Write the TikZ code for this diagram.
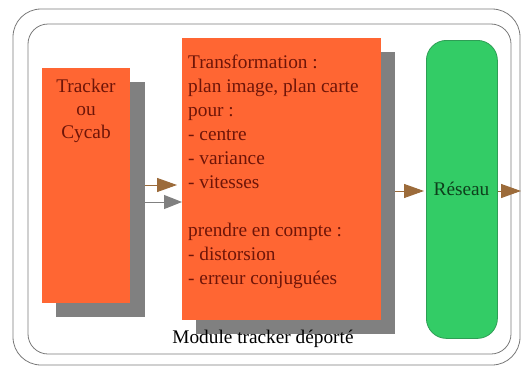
\documentclass[tikz,border=0pt]{standalone}
\usepackage{fontspec}
\setmainfont{Liberation Serif}
\usetikzlibrary{arrows.meta}
\definecolor{orangefill}{HTML}{FF6633}
\definecolor{shadowgray}{HTML}{808080}
\definecolor{greenfill}{HTML}{33CC66}
\definecolor{greenline}{HTML}{2E9E55}
\definecolor{arrowbrown}{HTML}{9C6B3A}
\definecolor{textred}{HTML}{6E1508}
\definecolor{textgreen}{HTML}{0E3F1C}
\definecolor{framegray}{HTML}{7A7A7A}
\begin{document}
\begin{tikzpicture}[x=1pt,y=-1pt,
  orangebox/.style={fill=orangefill, draw=none, inner sep=0pt, anchor=north west},
  shadowbox/.style={fill=shadowgray, draw=none, inner sep=0pt, anchor=north west},
  greenbox/.style={fill=greenfill, draw=greenline, line width=0.8pt, rounded corners=20pt, inner sep=0pt, anchor=north west},
  frameline/.style={draw=framegray, line width=0.8pt},
  txt/.style={font=\fontsize{19.3}{23}\selectfont, text=textred, inner sep=0pt},
  brownarrow/.style={draw=arrowbrown, line width=1pt, -{Triangle[length=20pt,width=14pt]}},
  grayarrow/.style={draw=shadowgray, line width=1pt, -{Triangle[length=18pt,width=14pt]}}
]
\useasboundingbox (0,0) rectangle (521,367);
\fill[white] (0,0) rectangle (521,367);
% frames
\draw[frameline, rounded corners=28pt] (13,9) rectangle (520,365);
\draw[frameline, rounded corners=20pt] (28,24) rectangle (511,354);
% shadows
\node[shadowbox, minimum width=89pt, minimum height=235pt] (trackshadow) at (56,82) {};
\node[shadowbox, minimum width=199pt, minimum height=282pt] (transshadow) at (196,52) {};
% boxes
\node[orangebox, minimum width=88pt, minimum height=235pt] (tracker) at (42,68) {};
\node[orangebox, minimum width=199pt, minimum height=282pt] (trans) at (182,38) {};
\node[greenbox, minimum width=71pt, minimum height=298pt] (reseau) at (426,40) {};
% texts
\node[txt, anchor=base] (t1) at (86,92) {Tracker};
\node[txt, anchor=base] (t2) at (86,115) {ou};
\node[txt, anchor=base] (t3) at (86,138) {Cycab};
\node[txt, anchor=base west] (l1) at (188,68) {Transformation :};
\node[txt, anchor=base west] (l2) at (188,92) {plan image, plan carte};
\node[txt, anchor=base west] (l3) at (188,116) {pour :};
\node[txt, anchor=base west] (l4) at (188,140) {- centre};
\node[txt, anchor=base west] (l5) at (188,164) {- variance};
\node[txt, anchor=base west] (l6) at (188,188) {- vitesses};
\node[txt, anchor=base west] (l7) at (188,236) {prendre en compte :};
\node[txt, anchor=base west] (l8) at (188,260) {- distorsion};
\node[txt, anchor=base west] (l9) at (188,284) {- erreur conjuguées};
\node[txt, anchor=base, text=textgreen] (rt) at (461.5,195) {Réseau};
\node[txt, anchor=base, text=black] (module) at (263,343) {Module tracker déporté};
% arrows
\coordinate (out) at (521,191);
\draw[brownarrow, shorten >=5pt] (trackshadow.east |- 0,185) -- (trans.west |- 0,185);
\draw[grayarrow] (trackshadow.east |- 0,202) -- (trans.west |- 0,202);
\draw[brownarrow, shorten >=2pt] (transshadow.east |- 0,191) -- (reseau.west |- 0,191);
\draw[brownarrow] (reseau.east |- out) -- (out);
\end{tikzpicture}
\end{document}
